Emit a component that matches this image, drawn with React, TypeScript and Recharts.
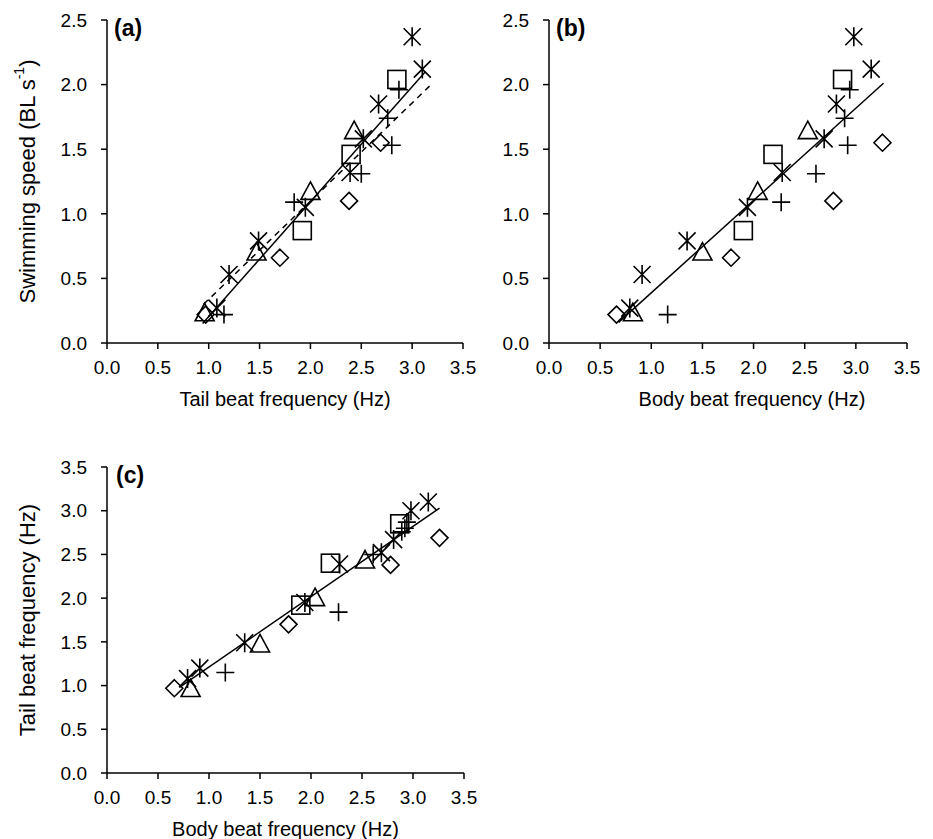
import React from 'react';
import { ScatterChart, Scatter, XAxis, YAxis, Label } from 'recharts';

const FONT = '"Liberation Sans", Arial, Helvetica, sans-serif';

// Tick values
const freqTicks = [0, 0.5, 1, 1.5, 2, 2.5, 3, 3.5];
const speedTicks = [0, 0.5, 1, 1.5, 2, 2.5];
const tailTicks = [0, 0.5, 1, 1.5, 2, 2.5, 3, 3.5];

// Marker groups: body beat frequency, tail beat frequency, swimming speed
const diamondBody = [0.66, 1.78, 2.78, 3.26];
const diamondTail = [0.97, 1.7, 2.38, 2.69];
const diamondSpeed = [0.22, 0.66, 1.1, 1.55];

const triangleBody = [0.82, 1.5, 2.04, 2.53];
const triangleTail = [0.96, 1.47, 2.0, 2.43];
const triangleSpeed = [0.23, 0.7, 1.17, 1.64];

const squareBody = [1.9, 2.19, 2.87];
const squareTail = [1.92, 2.4, 2.85];
const squareSpeed = [0.87, 1.46, 2.04];

const starBody = [0.79, 0.91, 1.35, 1.94, 2.28, 2.69, 2.81, 2.98, 3.15];
const starTail = [1.08, 1.2, 1.49, 1.95, 2.39, 2.52, 2.67, 3.0, 3.1];
const starSpeed = [0.27, 0.53, 0.79, 1.05, 1.32, 1.58, 1.85, 2.37, 2.12];

const plusBody = [1.16, 2.27, 2.61, 2.92, 2.89, 2.94];
const plusTail = [1.15, 1.84, 2.5, 2.8, 2.76, 2.87];
const plusSpeed = [0.22, 1.09, 1.31, 1.53, 1.74, 1.96];

// Regression lines (end points)
const fitASolidX = [0.94, 3.13];
const fitASolidY = [0.15, 2.1];
const fitADashX = [0.95, 3.2];
const fitADashY = [0.3, 2.01];
const fitBX = [0.68, 3.27];
const fitBY = [0.16, 2.01];
const fitCX = [0.71, 3.26];
const fitCY = [0.98, 3.03];

const pts = (xs: number[], ys: number[]) => xs.map((x, i) => ({ x, y: ys[i] }));

const S = '#000';
const SW = 1.6;

const Diamond = (p: any) => {
  const { cx, cy } = p;
  if (cx == null || cy == null) return <g />;
  const r = 8.5;
  return <path d={`M${cx},${cy - r}L${cx + r},${cy}L${cx},${cy + r}L${cx - r},${cy}Z`} fill="none" stroke={S} strokeWidth={SW} />;
};
const Triangle = (p: any) => {
  const { cx, cy } = p;
  if (cx == null || cy == null) return <g />;
  return <path d={`M${cx},${cy - 10}L${cx + 9.5},${cy + 7.5}L${cx - 9.5},${cy + 7.5}Z`} fill="none" stroke={S} strokeWidth={SW} />;
};
const Square = (p: any) => {
  const { cx, cy } = p;
  if (cx == null || cy == null) return <g />;
  const r = 9;
  return <rect x={cx - r} y={cy - r} width={2 * r} height={2 * r} fill="none" stroke={S} strokeWidth={SW} />;
};
const Star = (p: any) => {
  const { cx, cy } = p;
  if (cx == null || cy == null) return <g />;
  const d = 8.5;
  const v = 9.5;
  return (
    <path
      d={`M${cx - d},${cy - d}L${cx + d},${cy + d}M${cx - d},${cy + d}L${cx + d},${cy - d}M${cx},${cy - v}L${cx},${cy + v}`}
      fill="none"
      stroke={S}
      strokeWidth={SW}
    />
  );
};
const Plus = (p: any) => {
  const { cx, cy } = p;
  if (cx == null || cy == null) return <g />;
  const r = 9;
  return <path d={`M${cx - r},${cy}L${cx + r},${cy}M${cx},${cy - r}L${cx},${cy + r}`} fill="none" stroke={S} strokeWidth={SW} />;
};
const NoDot = () => <g />;

const fmt = (v: number) => v.toFixed(1);
const tickStyle = { fill: '#000', fontSize: 19, fontFamily: FONT };

type PanelProps = {
  left: number;
  top: number;
  width: number;
  height: number;
  marginRight: number;
  xHeight: number;
  yMax: number;
  yTicks: number[];
  series: { data: { x: number; y: number }[]; shape: any; name: string }[];
  lines: { data: { x: number; y: number }[]; dash?: string; name: string }[];
  xTitle: string;
  xTitleShift?: number;
  yTitle?: React.ReactNode;
};

function Panel(props: PanelProps) {
  const { left, top, width, height, marginRight, xHeight, yMax, yTicks, series, lines, xTitle, xTitleShift = 0, yTitle } = props;
  return (
    <div style={{ position: 'absolute', left, top, width, height }}>
      <ScatterChart width={width} height={height} margin={{ top: 20, right: marginRight, bottom: 0, left: 0 }}>
        <XAxis
          type="number"
          dataKey="x"
          domain={[0, 3.5]}
          ticks={freqTicks}
          interval={0}
          allowDataOverflow
          tickFormatter={fmt}
          axisLine={{ stroke: '#000', strokeWidth: 1.5 }}
          tickLine={{ stroke: '#000', strokeWidth: 1.5 }}
          tickSize={6}
          tickMargin={12}
          tick={tickStyle}
          height={xHeight}
        >
          <Label
            content={(lp: any) => {
              const vb = lp.viewBox || {};
              return (
                <text x={vb.x + vb.width / 2 + xTitleShift} y={vb.y + 63} textAnchor="middle" fontSize={20} fontFamily={FONT} fill="#000">
                  {xTitle}
                </text>
              );
            }}
          />
        </XAxis>
        <YAxis
          type="number"
          dataKey="y"
          domain={[0, yMax]}
          ticks={yTicks}
          interval={0}
          allowDataOverflow
          tickFormatter={fmt}
          axisLine={{ stroke: '#000', strokeWidth: 1.5 }}
          tickLine={{ stroke: '#000', strokeWidth: 1.5 }}
          tickSize={6}
          tickMargin={14}
          tick={tickStyle}
          width={107}
        >
          {yTitle ? (
            <Label
              content={(lp: any) => {
                const vb = lp.viewBox || {};
                const cx = vb.x + 27;
                const cy = vb.y + vb.height / 2;
                return (
                  <text
                    x={cx}
                    y={cy}
                    transform={`rotate(-90, ${cx}, ${cy})`}
                    textAnchor="middle"
                    dominantBaseline="central"
                    fontSize={22}
                    fontFamily={FONT}
                    fill="#000"
                  >
                    {yTitle}
                  </text>
                );
              }}
            />
          ) : null}
        </YAxis>
        {lines.map((l) => (
          <Scatter
            key={l.name}
            name={l.name}
            data={l.data}
            shape={NoDot}
            line={{ stroke: '#000', strokeWidth: 1.5, strokeDasharray: l.dash }}
            stroke="#000"
            fill="none"
            isAnimationActive={false}
          />
        ))}
        {series.map((s) => (
          <Scatter key={s.name} name={s.name} data={s.data} shape={s.shape} isAnimationActive={false} />
        ))}
      </ScatterChart>
    </div>
  );
}

export default function App() {
  const seriesA = [
    { name: 'diamond', data: pts(diamondTail, diamondSpeed), shape: Diamond },
    { name: 'triangle', data: pts(triangleTail, triangleSpeed), shape: Triangle },
    { name: 'square', data: pts(squareTail, squareSpeed), shape: Square },
    { name: 'star', data: pts(starTail, starSpeed), shape: Star },
    { name: 'plus', data: pts(plusTail, plusSpeed), shape: Plus },
  ];
  const seriesB = [
    { name: 'diamond', data: pts(diamondBody, diamondSpeed), shape: Diamond },
    { name: 'triangle', data: pts(triangleBody, triangleSpeed), shape: Triangle },
    { name: 'square', data: pts(squareBody, squareSpeed), shape: Square },
    { name: 'star', data: pts(starBody, starSpeed), shape: Star },
    { name: 'plus', data: pts(plusBody, plusSpeed), shape: Plus },
  ];
  const seriesC = [
    { name: 'diamond', data: pts(diamondBody, diamondTail), shape: Diamond },
    { name: 'triangle', data: pts(triangleBody, triangleTail), shape: Triangle },
    { name: 'square', data: pts(squareBody, squareTail), shape: Square },
    { name: 'star', data: pts(starBody, starTail), shape: Star },
    { name: 'plus', data: pts(plusBody, plusTail), shape: Plus },
  ];
  const speedTitle = (
    <>
      <tspan>Swimming speed (BL s</tspan>
      <tspan dy={-8} fontSize={14}>-1</tspan>
      <tspan dy={8}>)</tspan>
    </>
  );
  return (
    <div style={{ position: 'absolute', left: 0, top: 0, width: 933, height: 839, background: '#fff', fontFamily: FONT }}>
      <Panel
        left={0}
        top={0}
        width={480}
        height={420}
        marginRight={17}
        xHeight={77}
        yMax={2.5}
        yTicks={speedTicks}
        series={seriesA}
        lines={[
          { name: 'fitASolid', data: pts(fitASolidX, fitASolidY) },
          { name: 'fitADash', data: pts(fitADashX, fitADashY), dash: '6 5' },
        ]}
        xTitle="Tail beat frequency (Hz)"
        yTitle={speedTitle}
      />
      <Panel
        left={442}
        top={0}
        width={480}
        height={420}
        marginRight={15}
        xHeight={77}
        yMax={2.5}
        yTicks={speedTicks}
        series={seriesB}
        lines={[{ name: 'fitB', data: pts(fitBX, fitBY) }]}
        xTitle="Body beat frequency (Hz)"
        xTitleShift={24}
      />
      <Panel
        left={0}
        top={447}
        width={480}
        height={392}
        marginRight={16}
        xHeight={66}
        yMax={3.5}
        yTicks={tailTicks}
        series={seriesC}
        lines={[{ name: 'fitC', data: pts(fitCX, fitCY) }]}
        xTitle="Body beat frequency (Hz)"
        yTitle="Tail beat frequency (Hz)"
      />
      <svg width={933} height={839} style={{ position: 'absolute', left: 0, top: 0, pointerEvents: 'none' }}>
        <text x={114} y={36} fontSize={23} fontWeight="bold" fontFamily={FONT} fill="#000">(a)</text>
        <text x={556} y={36} fontSize={23} fontWeight="bold" fontFamily={FONT} fill="#000">(b)</text>
        <text x={116} y={483} fontSize={23} fontWeight="bold" fontFamily={FONT} fill="#000">(c)</text>
      </svg>
    </div>
  );
}
